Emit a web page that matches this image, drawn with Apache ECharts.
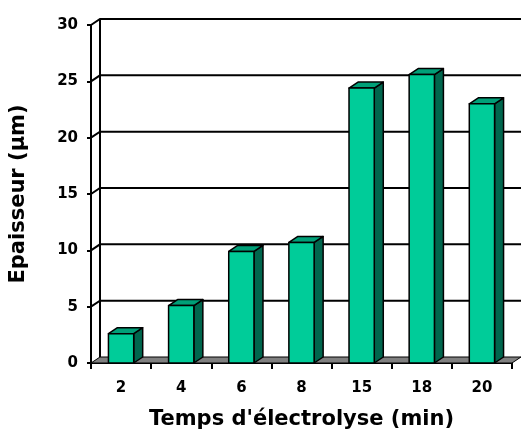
<!DOCTYPE html>
<html>
<head>
<meta charset="utf-8">
<script src="https://cdn.jsdelivr.net/npm/echarts@6/dist/echarts.min.js"></script>
<style>html,body{margin:0;padding:0;background:#fff;}#c{width:521px;height:430px;}</style>
</head>
<body>
<div id="c"></div>
<script>
const categories = ['2', '4', '6', '8', '15', '18', '20'];
const values = [2.6, 5.1, 9.9, 10.7, 24.4, 25.6, 23.0];
const yTicks = [0, 5, 10, 15, 20, 25, 30];
const xTitle = "Temps d'électrolyse (min)";
const yTitle = 'Epaisseur (µm)';

const DX = 9, DY = 6;
const FONT = '"DejaVu Sans", "Liberation Sans", Arial, sans-serif';

const chart = echarts.init(document.getElementById('c'), null, {renderer: 'canvas'});

function wallItem(params, api) {
  const v = api.value(0);
  const cs = params.coordSys;
  const left = cs.x, right = cs.x + cs.width;
  const y = api.coord([0, v])[1];
  const children = [];
  if (v === 0) {
    children.push({
      type: 'polygon',
      shape: {points: [[left, y], [right, y], [right + DX, y - DY], [left + DX, y - DY]]},
      style: {fill: '#808080', stroke: '#000', lineWidth: 1}
    });
    const yTop = api.coord([0, yTicks[yTicks.length - 1]])[1];
    children.push({
      type: 'line',
      shape: {x1: left + DX, y1: y - DY, x2: left + DX, y2: yTop - DY},
      style: {stroke: '#000', lineWidth: 2}
    });
  } else {
    children.push({
      type: 'polyline',
      shape: {points: [[left, y], [left + DX, y - DY], [right + DX, y - DY]]},
      style: {stroke: '#000', lineWidth: 2, fill: null}
    });
  }
  return {type: 'group', children: children};
}

function barItem(params, api) {
  const idx = api.value(0);
  const val = api.value(1);
  const base = api.coord([idx, 0]);
  const top = api.coord([idx, val]);
  const w = api.size([1, 0])[0] * 0.42;
  const x0 = base[0] - w / 2, x1 = base[0] + w / 2;
  const yb = base[1], yt = top[1];
  const st = {stroke: '#000', lineWidth: 1.5, lineJoin: 'round'};
  return {
    type: 'group',
    children: [
      {type: 'polygon', shape: {points: [[x1, yt], [x1 + DX, yt - DY], [x1 + DX, yb - DY], [x1, yb]]},
       style: Object.assign({fill: '#00664D'}, st)},
      {type: 'polygon', shape: {points: [[x0, yt], [x0 + DX, yt - DY], [x1 + DX, yt - DY], [x1, yt]]},
       style: Object.assign({fill: '#00A078'}, st)},
      {type: 'rect', shape: {x: x0, y: yt, width: w, height: yb - yt},
       style: Object.assign({fill: '#00CC99'}, st)}
    ]
  };
}

chart.setOption({
  animation: false,
  grid: {left: 91, right: 9, top: 25, bottom: 67, containLabel: false, outerBoundsMode: 'none'},
  xAxis: {
    type: 'category',
    data: categories,
    name: xTitle,
    nameLocation: 'middle',
    nameGap: 46,
    nameTextStyle: {fontFamily: FONT, fontWeight: 'bold', fontSize: 21, color: '#000'},
    axisLine: {lineStyle: {color: '#000', width: 2}},
    axisTick: {show: true, length: 6, lineStyle: {color: '#000', width: 2}},
    axisLabel: {fontFamily: FONT, fontWeight: 'bold', fontSize: 15, color: '#000', margin: 18},
    splitLine: {show: false}
  },
  yAxis: {
    type: 'value',
    min: 0, max: 30, interval: 5,
    name: yTitle,
    nameLocation: 'middle',
    nameGap: 62,
    nameTextStyle: {fontFamily: FONT, fontWeight: 'bold', fontSize: 21, color: '#000'},
    axisLine: {show: true, lineStyle: {color: '#000', width: 2}},
    axisTick: {show: true, length: 4, lineStyle: {color: '#000', width: 2}},
    axisLabel: {fontFamily: FONT, fontWeight: 'bold', fontSize: 15, color: '#000', margin: 13},
    splitLine: {show: false}
  },
  series: [
    {
      type: 'custom',
      renderItem: wallItem,
      data: yTicks.map(v => [v]),
      z: 1,
      silent: true,
      clip: false
    },
    {
      type: 'custom',
      renderItem: barItem,
      data: values.map((v, i) => [i, v]),
      z: 2,
      clip: false
    }
  ]
});
</script>
</body>
</html>
